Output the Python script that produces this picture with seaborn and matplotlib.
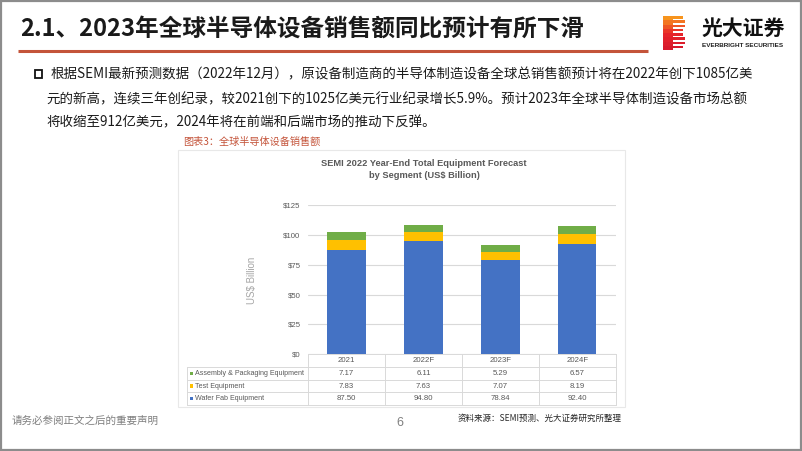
import numpy as np
import pandas as pd
import matplotlib
matplotlib.use("Agg")
import matplotlib.pyplot as plt
import seaborn as sns
from matplotlib.patches import Rectangle

# ---------------- data ----------------
years = ["2021", "2022F", "2023F", "2024F"]
assembly = [7.17, 6.11, 5.29, 6.57]
test_eq = [7.83, 7.63, 7.07, 8.19]
wafer = [87.50, 94.80, 78.84, 92.40]
series_names = ["Assembly & Packaging Equipment", "Test Equipment", "Wafer Fab Equipment"]
yticks = [0, 25, 50, 75, 100, 125]

title = "2.1、2023年全球半导体设备销售额同比预计有所下滑"
bullet_lines = [
    "根据SEMI最新预测数据（2022年12月），原设备制造商的半导体制造设备全球总销售额预计将在2022年创下1085亿美",
    "元的新高，连续三年创纪录，较2021创下的1025亿美元行业纪录增长5.9%。预计2023年全球半导体制造设备市场总额",
    "将收缩至912亿美元，2024年将在前端和后端市场的推动下反弹。",
]
caption = "图表3：全球半导体设备销售额"
chart_title = ["SEMI 2022 Year-End Total Equipment Forecast", "by Segment (US$ Billion)"]
footer_left = "请务必参阅正文之后的重要声明"
page_no = "6"
source = "资料来源：SEMI预测、光大证券研究所整理"

# ---------------- style ----------------
sns.set_theme(style="white")
plt.rcParams['font.family'] = ['Noto Sans CJK SC', 'DejaVu Sans']

C_BLUE, C_YEL, C_GRN = "#4472C4", "#FFC000", "#70AD47"
C_RED = "#C4543A"
GRAY = "#595959"
LAT = ['Liberation Sans', 'DejaVu Sans']

W, H = 802, 451
fig = plt.figure(figsize=(W / 100, H / 100), dpi=100)
fig.patch.set_facecolor("white")

ov = fig.add_axes([0, 0, 1, 1], zorder=0)
ov.set_xlim(0, W)
ov.set_ylim(H, 0)
ov.axis('off')

# slide border
ov.add_patch(Rectangle((0.8, 0.8), W - 1.6, H - 1.6, fill=False, ec="#8C8C8C", lw=1.6))

# title + red rule
ov.text(20, 29, title, fontsize=17, fontweight="bold", color="#1A1A1A", va="center", ha="left")
ov.plot([18, 648], [50.5, 50.5], color=C_RED, lw=2.2, solid_capstyle="butt")

# logo
lx0, lx1, ly0, ly1 = 663, 685, 16, 50
n = 8
sh = (ly1 - ly0) / n
cmap = matplotlib.colors.LinearSegmentedColormap.from_list("lg", ["#F7941D", "#E8262A", "#D7192B"])
for i in range(n):
    col = cmap(i / (n - 1))
    ov.add_patch(Rectangle((lx0, ly0 + i * sh), 10, sh + 0.2, color=col, lw=0))
    ov.add_patch(Rectangle((lx0 + 10, ly0 + i * sh), 12 - (2.5 if i in (0, 3, 4, 7) else 0), sh * 0.62,
                           color=col, lw=0))
ov.text(702, 28, "光大证券", fontsize=15, fontweight="bold", color="#111111", va="center", ha="left")
ov.text(702.5, 45.5, "EVERBRIGHT SECURITIES", fontsize=4.6, fontweight="bold", color="#222222",
        va="center", ha="left", family=LAT)

# bullet text
ov.add_patch(Rectangle((34.5, 70), 7.5, 7.5, fill=False, ec="#111111", lw=1.3))
ov.text(51, 74, bullet_lines[0], fontsize=9.7, color="#1A1A1A", va="center", ha="left")
ov.text(46, 99, bullet_lines[1], fontsize=9.7, color="#1A1A1A", va="center", ha="left")
ov.text(46, 122, bullet_lines[2], fontsize=9.7, color="#1A1A1A", va="center", ha="left")

# caption
ov.text(183, 142, caption, fontsize=7.3, color=C_RED, va="center", ha="left")

# chart box
ov.add_patch(Rectangle((178, 150), 447, 257, facecolor="white", ec="#E8E8E8", lw=0.8))

# chart title
ov.text(424, 164, chart_title[0], fontsize=6.7, fontweight="bold", color=GRAY, ha="center",
        va="center", family=LAT)
ov.text(424, 175.5, chart_title[1], fontsize=6.7, fontweight="bold", color=GRAY, ha="center",
        va="center", family=LAT)

# y label
ov.text(252, 280, "US$ Billion", fontsize=7, color="#A6A6A6", rotation=90, ha="center",
        va="center", family=LAT)

# ---------------- bar chart ----------------
ax_l, ax_r, ax_t, ax_b = 308, 615.7, 205, 354.3
ax = fig.add_axes([ax_l / W, (H - ax_b) / H, (ax_r - ax_l) / W, (ax_b - ax_t) / H], zorder=2)
ax.patch.set_alpha(0)

df = pd.DataFrame({"year": years, "assembly": assembly, "test": test_eq, "wafer": wafer})
df["wt"] = df["wafer"] + df["test"]
df["total"] = df["wt"] + df["assembly"]

sns.barplot(data=df, x="year", y="total", color=C_GRN, width=0.5, saturation=1, ax=ax, lw=0)
sns.barplot(data=df, x="year", y="wt", color=C_YEL, width=0.5, saturation=1, ax=ax, lw=0)
sns.barplot(data=df, x="year", y="wafer", color=C_BLUE, width=0.5, saturation=1, ax=ax, lw=0)

ax.set_xlim(-0.5, len(years) - 0.5)
ax.set_ylim(0, 125)
ax.set_yticks(yticks)
ax.set_yticklabels([f"${v}" for v in yticks], family=LAT)
ax.yaxis.grid(True, color="#D9D9D9", lw=0.8)
ax.set_axisbelow(True)
for s in ax.spines.values():
    s.set_visible(False)
ax.tick_params(axis="y", length=0, pad=5.5, labelsize=5.6, labelcolor=GRAY)
ax.tick_params(axis="x", length=0, pad=2.2, labelsize=5.6, labelcolor=GRAY)
for t in ax.get_xticklabels():
    t.set_family(LAT)
ax.set_xlabel("")
ax.set_ylabel("")

# ---------------- data table ----------------
def colx(v):
    return ax.transData.transform((v, 0))[0]

edges = [colx(i - 0.5) for i in range(len(years) + 1)]
tab_left = 187
row_edges = [367.3, 379.9, 392.4, 405]
lc = "#D9D9D9"
for e in edges:
    ov.plot([e, e], [ax_b, row_edges[-1]], color=lc, lw=0.7)
ov.plot([tab_left, tab_left], [row_edges[0], row_edges[-1]], color=lc, lw=0.7)
ov.plot([edges[0], edges[-1]], [ax_b, ax_b], color=lc, lw=0.7)
for r in row_edges:
    ov.plot([tab_left, edges[-1]], [r, r], color=lc, lw=0.7)

rows = [(series_names[0], assembly, C_GRN), (series_names[1], test_eq, C_YEL), (series_names[2], wafer, C_BLUE)]
for k, (name, vals, col) in enumerate(rows):
    yc = (row_edges[k] + row_edges[k + 1]) / 2
    ov.add_patch(Rectangle((189.5, yc - 1.7), 3.4, 3.4, color=col, lw=0))
    ov.text(195, yc, name, fontsize=5.1, color=GRAY, va="center", ha="left", family=LAT)
    for i, v in enumerate(vals):
        ov.text(colx(i), yc, f"{v:.2f}", fontsize=5.6, color=GRAY, va="center", ha="center", family=LAT)

# ---------------- footer ----------------
ov.text(12, 421, footer_left, fontsize=7.6, color="#7F7F7F", va="center", ha="left")
ov.text(400, 423, page_no, fontsize=9, color="#7F7F7F", va="center", ha="center", family=LAT)
ov.text(458, 418, source, fontsize=6.1, color="#262626", va="center", ha="left")

fig.savefig("out.png", dpi=100, facecolor="white")
